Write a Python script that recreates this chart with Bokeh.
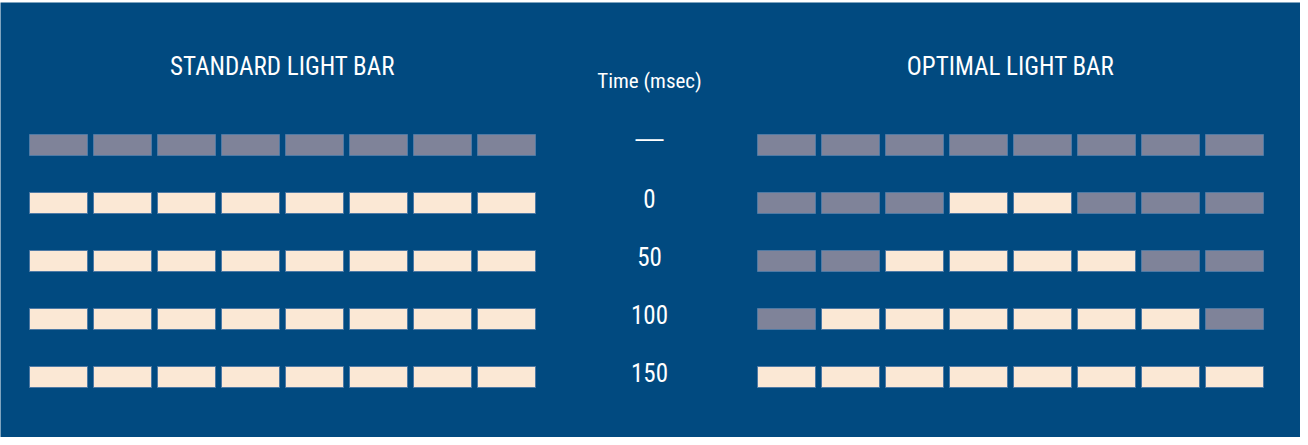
from bokeh.plotting import figure
from bokeh.models import Range1d, ColumnDataSource
from bokeh.core.properties import value
from bokeh.embed import file_html
from bokeh.resources import INLINE

# ---- data ----
time_labels = ["\u2014", "0", "50", "100", "150"]
panel_titles = ["STANDARD LIGHT BAR", "OPTIMAL LIGHT BAR"]
time_title = "Time (msec)"
# 1 = lit segment, 0 = unlit segment (8 segments per bar)
standard_bar = [
    [0, 0, 0, 0, 0, 0, 0, 0],
    [1, 1, 1, 1, 1, 1, 1, 1],
    [1, 1, 1, 1, 1, 1, 1, 1],
    [1, 1, 1, 1, 1, 1, 1, 1],
    [1, 1, 1, 1, 1, 1, 1, 1],
]
optimal_bar = [
    [0, 0, 0, 0, 0, 0, 0, 0],
    [0, 0, 0, 1, 1, 0, 0, 0],
    [0, 0, 1, 1, 1, 1, 0, 0],
    [0, 1, 1, 1, 1, 1, 1, 0],
    [1, 1, 1, 1, 1, 1, 1, 1],
]

# ---- style ----
BG = "#014a80"
LIT = "#fbe8d5"
UNLIT = "#7f8399"
FONT = value("Roboto Condensed")

# ---- layout (page pixel coordinates) ----
seg_pitch = 64
seg_w = 58
seg_h = 21
row_pitch = 58
row0_y = 152.5
panel_x0 = [66, 794]   # center of first segment of each panel
center_x = 657

p = figure(width=1300, height=437, output_backend="svg", toolbar_location=None,
           x_range=Range1d(8, 1308), y_range=Range1d(445, 10),
           min_border_left=0, min_border_right=0, min_border_bottom=0, min_border_top=2)
p.axis.visible = False
p.grid.visible = False
p.outline_line_color = None
p.background_fill_color = BG
p.border_fill_color = "white"

xs, ys, cs = [], [], []
for panel, states in enumerate([standard_bar, optimal_bar]):
    for r, row in enumerate(states):
        for i, s in enumerate(row):
            xs.append(panel_x0[panel] + i * seg_pitch)
            ys.append(row0_y + r * row_pitch)
            cs.append(LIT if s else UNLIT)
src = ColumnDataSource(dict(x=xs, y=ys, c=cs))
p.rect(x="x", y="y", width=seg_w, height=seg_h, fill_color="c", source=src,
       line_color="#4f7aa5", line_width=1)

# time labels (the dash row uses a font with a long em dash)
ty = [row0_y + r * row_pitch - 5 for r in range(len(time_labels))]
p.text(x=[center_x], y=[ty[0] - 3], text=time_labels[:1],
       text_align="center", text_baseline="middle", text_color="white",
       text_font=value("Liberation Sans"), text_font_size="28px")
p.text(x=[center_x] * (len(time_labels) - 1), y=ty[1:], text=time_labels[1:],
       text_align="center", text_baseline="middle", text_color="white",
       text_font=FONT, text_font_size="25px")

# titles
title_x = [panel_x0[k] + 3.5 * seg_pitch for k in range(2)]
p.text(x=title_x, y=[74, 74], text=panel_titles, text_align="center",
       text_baseline="middle", text_color="white", text_font=FONT,
       text_font_size="25px")
p.text(x=[center_x], y=[88], text=[time_title], text_align="center",
       text_baseline="middle", text_color="white", text_font=FONT,
       text_font_size="21px")

open("out.html", "w").write(file_html(p, INLINE))
